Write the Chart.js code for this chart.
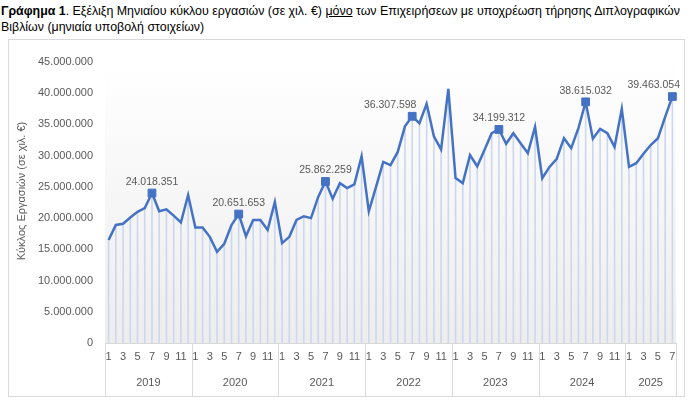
<!DOCTYPE html>
<html>
<head>
<meta charset="utf-8">
<script src="https://cdn.jsdelivr.net/npm/chart.js@4.4.1/dist/chart.umd.min.js"></script>
<style>
    body { margin: 0; background: #fff; }
    #wrap { position: relative; width: 696px; height: 405px; overflow: hidden; }
    #title {
        position: absolute; left: 1px; top: 3px;
        font: 12.4px "Liberation Sans", Arial, sans-serif;
        line-height: 16px; color: #000; white-space: nowrap;
    }
    #frame {
        position: absolute; left: 8px; top: 39px; width: 677px; height: 358px;
        border: 1px solid #d9d9d9; box-sizing: border-box; pointer-events: none;
    }
    canvas { position: absolute; left: 0; top: 0; }
</style>
</head>
<body>
<div id="wrap">
    <div id="title"><b>Γράφημα 1</b>. Εξέλιξη Μηνιαίου κύκλου εργασιών (σε χιλ. €) <u>μόνο</u> των Επιχειρήσεων με υποχρέωση τήρησης Διπλογραφικών<br>Βιβλίων (μηνιαία υποβολή στοιχείων)</div>
    <div id="frame"></div>
    <canvas id="turnoverChart" width="696" height="405"></canvas>
</div>
<script>
const years = ["2019", "2020", "2021", "2022", "2023", "2024", "2025"];
const monthsPerYear = [12, 12, 12, 12, 12, 12, 7];

const turnover = [
    16500000, 18900000, 19100000, 20100000, 21000000, 21600000, 24018351, 21100000, 21400000, 20400000, 19300000, 23700000,
    18500000, 18500000, 17000000, 14600000, 15900000, 18900000, 20651653, 17100000, 19700000, 19700000, 18100000, 22600000,
    16000000, 17000000, 19700000, 20300000, 20000000, 23400000, 25862259, 23100000, 25600000, 24800000, 25400000, 29900000,
    21100000, 25000000, 29000000, 28500000, 30600000, 34700000, 36307598, 35200000, 38300000, 33100000, 31000000, 40700000,
    26400000, 25600000, 30100000, 28300000, 30900000, 33600000, 34199312, 31900000, 33600000, 32000000, 30400000, 34600000,
    26400000, 28200000, 29500000, 32800000, 31200000, 34400000, 38615032, 32700000, 34300000, 33600000, 31400000, 37500000,
    28200000, 28800000, 30300000, 31700000, 32800000, 36200000, 39463054
];

const yTicks = [0, 5000000, 10000000, 15000000, 20000000, 25000000, 30000000, 35000000, 40000000, 45000000];
const labelMonth = 7;

// month numbers and year of every point
const monthNums = [];
const yearOf = [];
years.forEach((y, i) => {
    for (let m = 1; m <= monthsPerYear[i]; m++) {
        monthNums.push(m);
        yearOf.push(y);
    }
});
const categories = monthNums.map((m, i) => yearOf[i] + "-" + m);

const GREY_TEXT = "#595959";
const FONT = "'Liberation Sans', Arial, sans-serif";

function fmt(v) {
    return String(Math.round(v)).replace(/\B(?=(\d{3})+(?!\d))/g, ".");
}

const isMarked = i => monthNums[i] === labelMonth || i === turnover.length - 1;

const plotBackground = {
    id: "plotBackground",
    beforeDraw(chart) {
        const { ctx, chartArea: a } = chart;
        const g = ctx.createLinearGradient(0, a.top, 0, a.bottom);
        g.addColorStop(0, "#ffffff");
        g.addColorStop(1, "#ededed");
        ctx.save();
        ctx.fillStyle = g;
        ctx.fillRect(a.left, a.top, a.right - a.left, a.bottom - a.top);
        ctx.restore();
    }
};

const yearAxis = {
    id: "yearAxis",
    afterDraw(chart) {
        const { ctx, chartArea: a } = chart;
        const x = chart.scales.x;
        const half = (x.getPixelForValue(1) - x.getPixelForValue(0)) / 2;
        ctx.save();
        ctx.strokeStyle = "#d9d9d9";
        ctx.lineWidth = 1;
        ctx.fillStyle = GREY_TEXT;
        ctx.font = "11px " + FONT;
        ctx.textAlign = "center";
        ctx.textBaseline = "middle";
        let start = 0;
        years.forEach((y, i) => {
            const end = start + monthsPerYear[i] - 1;
            const x0 = x.getPixelForValue(start) - half;
            const x1 = x.getPixelForValue(end) + half;
            [x0, x1].forEach(px => {
                ctx.beginPath();
                ctx.moveTo(Math.round(px) + 0.5, a.bottom);
                ctx.lineTo(Math.round(px) + 0.5, 396);
                ctx.stroke();
            });
            ctx.fillText(y, (x0 + x1) / 2, 383);
            start = end + 1;
        });

        // y axis title, sits a bit above the middle like the original
        ctx.translate(22, 191);
        ctx.rotate(-Math.PI / 2);
        ctx.fillText("Κύκλος Εργασιών (σε χιλ. €)", 0, 0);
        ctx.restore();
    }
};

const valueLabels = {
    id: "valueLabels",
    afterDatasetsDraw(chart) {
        const { ctx } = chart;
        const meta = chart.getDatasetMeta(1);
        ctx.save();
        ctx.fillStyle = GREY_TEXT;
        ctx.font = "10.5px " + FONT;
        ctx.textAlign = "center";
        ctx.textBaseline = "middle";
        meta.data.forEach((pt, i) => {
            if (!isMarked(i)) return;
            const text = fmt(turnover[i]);
            const w = ctx.measureText(text).width;
            let cx = pt.x;
            // 2022 label was nudged left in the original to clear the line
            if (yearOf[i] === "2022") cx -= 22;
            if (cx + w / 2 > 680) cx = 680 - w / 2;
            ctx.fillText(text, cx, pt.y - 11);
        });
        ctx.restore();
    }
};

const chart = new Chart(document.getElementById("turnoverChart"), {
    type: "line",
    data: {
        labels: categories,
        datasets: [{
            type: "bar",
            data: turnover,
            backgroundColor: "#cdd8ee",
            barThickness: 1,
            order: 2
        }, {
            type: "line",
            data: turnover,
            borderColor: "#4472c4",
            borderWidth: 2.5,
            tension: 0,
            pointStyle: "rect",
            pointRadius: c => isMarked(c.dataIndex) ? 5.5 : 0,
            pointBackgroundColor: "#4472c4",
            pointBorderColor: "#4472c4",
            pointBorderWidth: 1,
            order: 1
        }]
    },
    options: {
        responsive: false,
        animation: false,
        events: [],
        layout: { padding: { left: 0, right: 20, top: 62, bottom: 0 } },
        plugins: {
            legend: { display: false },
            tooltip: { enabled: false }
        },
        scales: {
            x: {
                offset: true,
                grid: { display: false, drawTicks: false },
                border: { display: true, color: "#d9d9d9" },
                ticks: {
                    autoSkip: false,
                    maxRotation: 0,
                    padding: 7,
                    color: GREY_TEXT,
                    font: { family: FONT, size: 11 },
                    callback: (v, i) => monthNums[i] % 2 === 1 ? String(monthNums[i]) : ""
                },
                afterFit: s => { s.height = 62; }
            },
            y: {
                min: 0,
                max: 45000000,
                afterBuildTicks: s => { s.ticks = yTicks.map(v => ({ value: v })); },
                grid: { display: false, drawTicks: false },
                border: { display: false },
                ticks: {
                    padding: 12,
                    color: GREY_TEXT,
                    font: { family: FONT, size: 11 },
                    callback: v => fmt(v)
                },
                afterFit: s => { s.width = 105; }
            }
        }
    },
    plugins: [plotBackground, yearAxis, valueLabels]
});
</script>
</body>
</html>
